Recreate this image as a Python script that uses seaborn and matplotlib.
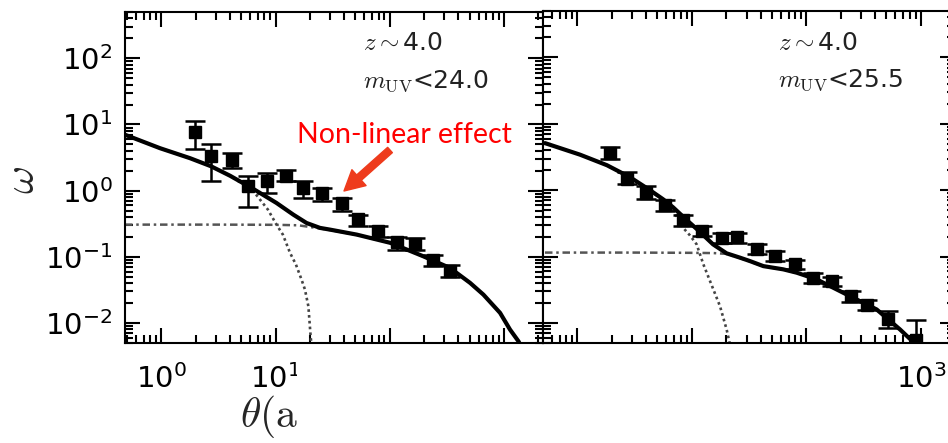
import numpy as np
import matplotlib
matplotlib.use("Agg")
import matplotlib.pyplot as plt
from matplotlib.patches import Rectangle, FancyArrowPatch
from matplotlib.ticker import LogLocator, NullFormatter
import seaborn as sns

# ---------------- data: m_UV < 24.0 ----------------
theta_24 = [1.97, 2.72, 4.13, 5.78, 8.4, 12.3, 17.5, 25.4, 38, 53.2, 79.5, 115, 167, 241, 337]
w_24 = [7.7, 3.3, 2.94, 1.19, 1.38, 1.68, 1.1, 0.923, 0.652, 0.374, 0.243, 0.166, 0.158, 0.091, 0.0605]
w_lo_24 = [4.3, 1.42, 2.17, 0.57, 0.92, 1.38, 0.776, 0.69, 0.487, 0.296, 0.2, 0.128, 0.125, 0.072, 0.049]
w_hi_24 = [11.1, 5.07, 3.71, 1.68, 1.85, 2.03, 1.38, 1.1, 0.776, 0.434, 0.296, 0.2, 0.19, 0.108, 0.0764]

th_tot_24 = [0.481, 0.975, 1.78, 2.72, 4.0, 6.35, 10.2, 14.3, 18.7, 24.5, 30.0, 51.4, 101, 197, 337, 505, 661, 925, 1130, 1340, 1585]
w_tot_24 = [7.0, 4.38, 3.10, 2.34, 1.68, 1.07, 0.652, 0.435, 0.325, 0.274, 0.258, 0.217, 0.163, 0.102, 0.068, 0.0405, 0.0269, 0.01426, 0.00798, 0.00531, 0.0030]
th_1h_24 = [0.481, 0.975, 1.78, 2.72, 4.0, 6.35, 8.59, 10.2, 11.6, 13.4, 15.1, 16.9, 18.1, 19.4, 20.3, 20.7]
w_1h_24 = [7.0, 4.38, 3.10, 2.34, 1.68, 1.0, 0.516, 0.307, 0.217, 0.115, 0.0764, 0.0454, 0.0321, 0.0179, 0.0063, 0.0045]
th_2h_24 = [0.481, 3.16, 10, 15.8, 24.5, 30, 51.4, 101, 197, 337, 505, 661, 925, 1130, 1340, 1585]
w_2h_24 = [0.307, 0.307, 0.305, 0.30, 0.269, 0.254, 0.215, 0.162, 0.101, 0.0675, 0.0402, 0.0267, 0.0142, 0.00795, 0.0053, 0.003]

# ---------------- data: m_UV < 25.5 ----------------
theta_25 = [1.93, 2.73, 3.97, 5.82, 8.4, 12.2, 18.2, 24.8, 36.8, 53.3, 79.6, 115, 166, 244, 336, 519, 900]
w_25 = [3.62, 1.5, 0.92, 0.594, 0.356, 0.243, 0.193, 0.195, 0.13, 0.102, 0.0764, 0.048, 0.0428, 0.0254, 0.019, 0.0113, 0.0055]
w_lo_25 = [2.94, 1.23, 0.731, 0.488, 0.29, 0.205, 0.16, 0.16, 0.108, 0.085, 0.064, 0.04, 0.036, 0.021, 0.0155, 0.0085, 0.002]
w_hi_25 = [4.42, 1.85, 1.14, 0.714, 0.42, 0.29, 0.23, 0.23, 0.155, 0.12, 0.09, 0.057, 0.05, 0.03, 0.0225, 0.0151, 0.0112]

th_tot_25 = [0.521, 1.054, 1.81, 2.88, 4.31, 5.6, 6.84, 9.06, 11.1, 15.3, 20.1, 26.3, 32.1, 42.1, 62.8, 82.2, 123, 240, 411, 658, 859, 1122]
w_tot_25 = [5.12, 3.43, 2.38, 1.57, 1.0, 0.731, 0.554, 0.352, 0.258, 0.153, 0.112, 0.0964, 0.0857, 0.0719, 0.0643, 0.0573, 0.0454, 0.0254, 0.016, 0.00798, 0.00516, 0.003]
th_1h_25 = [0.521, 1.054, 1.81, 2.88, 4.31, 5.6, 6.84, 8.41, 9.61, 11.0, 12.6, 15.4, 17.6, 20.1, 21.3]
w_1h_25 = [5.12, 3.43, 2.38, 1.57, 1.0, 0.70, 0.50, 0.27, 0.209, 0.153, 0.0764, 0.032, 0.0179, 0.008, 0.0051]
th_2h_25 = [0.521, 3.16, 10, 15.5, 20.1, 26.3, 32.1, 42.1, 62.8, 82.2, 123, 240, 411, 658, 859, 1122]
w_2h_25 = [0.115, 0.115, 0.114, 0.113, 0.110, 0.095, 0.0845, 0.0712, 0.0638, 0.0569, 0.0451, 0.0253, 0.0159, 0.00794, 0.00513, 0.003]

labels_z = [r"$z\sim$4.0", r"$z\sim$4.0"]
labels_m = [r"$m_{\rm UV}$<24.0", r"$m_{\rm UV}$<25.5"]

sns.set_style("ticks")
plt.rcParams["font.family"] = ["DejaVu Sans"]
plt.rcParams["mathtext.fontset"] = "cm"

W, H = 948, 443
fig = plt.figure(figsize=(W / 100, H / 100), dpi=100)

def px_axes(l, t, r, b):
    return [l / W, 1 - b / H, (r - l) / W, (b - t) / H]

ax1 = fig.add_axes(px_axes(125, 12, 543, 343))
ax2 = fig.add_axes(px_axes(543, 11, 955, 343))

panels = [
    (ax1, (0.481, 2198), theta_24, w_24, w_lo_24, w_hi_24,
     th_tot_24, w_tot_24, th_1h_24, w_1h_24, th_2h_24, w_2h_24),
    (ax2, (0.5006, 1986), theta_25, w_25, w_lo_25, w_hi_25,
     th_tot_25, w_tot_25, th_1h_25, w_1h_25, th_2h_25, w_2h_25),
]

for i, (ax, xl, th, w, lo, hi, tt, wt, t1, w1, t2, w2) in enumerate(panels):
    ax.set_xscale("log")
    ax.set_yscale("log")
    sns.lineplot(x=t2, y=w2, ax=ax, color="#555555", lw=1.8, estimator=None, sort=False,
                 linestyle=(0, (3, 1.5, 1, 1.5)))
    sns.lineplot(x=t1, y=w1, ax=ax, color="#444444", lw=1.9, estimator=None, sort=False,
                 linestyle=(0, (1, 1.2)))
    sns.lineplot(x=tt, y=wt, ax=ax, color="black", lw=3.0, estimator=None, sort=False)
    w_arr = np.array(w)
    yerr = [w_arr - np.array(lo), np.array(hi) - w_arr]
    ax.errorbar(th, w, yerr=yerr, fmt="s", color="black", ms=9, capsize=7.5,
                elinewidth=1.8, capthick=1.8, zorder=5)
    ax.set_xlim(*xl)
    ax.set_ylim(5.0e-3, 500)
    ax.xaxis.set_major_locator(LogLocator(base=10, numticks=20))
    ax.yaxis.set_major_locator(LogLocator(base=10, numticks=20))
    ax.xaxis.set_minor_locator(LogLocator(base=10, subs=np.arange(2, 10), numticks=100))
    ax.yaxis.set_minor_locator(LogLocator(base=10, subs=np.arange(2, 10), numticks=100))
    ax.xaxis.set_minor_formatter(NullFormatter())
    ax.yaxis.set_minor_formatter(NullFormatter())
    ax.tick_params(which="both", direction="in", top=True, right=True, width=1.5, colors="black")
    ax.tick_params(which="major", length=11, labelsize=21, pad=9)
    ax.tick_params(axis="x", which="major", pad=15)
    ax.tick_params(which="minor", length=5.5)
    for s in ax.spines.values():
        s.set_linewidth(1.5)
        s.set_color("black")
    ax.set_xlabel("")
    ax.set_ylabel("")
    ax.text(0.57, 0.905, labels_z[i], transform=ax.transAxes, fontsize=18,
            ha="left", va="center", color="#222222")
    ax.text(0.57, 0.79, labels_m[i], transform=ax.transAxes, fontsize=18,
            ha="left", va="center", color="#222222")

ax2.tick_params(labelleft=False)

# axis labels
ax1.set_ylabel(r"$\omega$", fontsize=31, rotation=90)
ax1.yaxis.set_label_coords((43 - 125) / 418, (343 - 180) / 331)
fig.text(240 / W, 16 / H, r"$\theta(\mathrm{arcsec})$", fontsize=30, ha="left", va="baseline")

# white box pasted over the lower part of the figure
fig.add_artist(Rectangle((297 / W, 0), (870 - 297) / W, 98 / H, transform=fig.transFigure,
                         facecolor="white", edgecolor="none", zorder=10))

# red annotation
fig.text(297 / W, 1 - 135 / H, "Non-linear effect", color="red", fontsize=20.5,
         family=["Lato", "DejaVu Sans"], ha="left", va="center", zorder=11)
fig.add_artist(FancyArrowPatch(
    (390 / W, 1 - 150 / H), (344 / W, 1 - 191 / H), transform=fig.transFigure,
    arrowstyle="simple,head_width=0.9,head_length=0.85,tail_width=0.3",
    mutation_scale=17, color="#ee3b1c", zorder=11, shrinkA=0, shrinkB=0))

fig.savefig("out.png", dpi=100)
